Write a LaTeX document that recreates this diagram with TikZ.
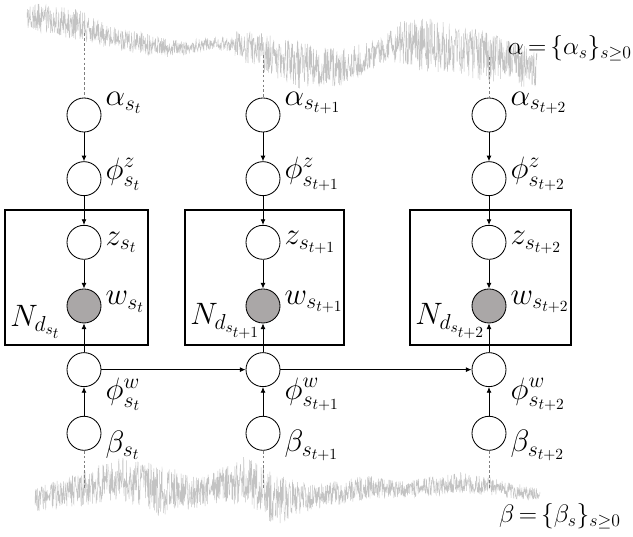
\RequirePackage{fix-cm}
\documentclass[tikz,border=0pt]{standalone}
\usepackage{amsmath}
\usetikzlibrary{arrows.meta, positioning}

\definecolor{obsgray}{RGB}{170,167,167}
\definecolor{noisegray}{RGB}{195,195,195}

\begin{document}
\begin{tikzpicture}[x=0.025cm, y=-0.025cm, >={Latex[length=4pt, width=3.5pt]},
    node distance=0.72cm,
    latent/.style={circle, draw, line width=0.6pt, minimum size=0.85cm, inner sep=0pt},
    obs/.style={latent, fill=obsgray},
    plate/.style={draw, line width=1pt},
    edge/.style={->, line width=0.6pt},
    noise/.style={draw=noisegray, line width=0.3pt},
    guide/.style={draw=gray, line width=0.6pt, dash pattern=on 2pt off 1.5pt},
    lbl/.style={inner sep=0pt, font=\fontsize{22}{26}\selectfont},
    eqn/.style={inner sep=0pt, font=\fontsize{18}{22}\selectfont}]
  \useasboundingbox (0,0) rectangle (633,537);

  % the two random walks behind the chain
  \pgfmathsetseed{7}
  \foreach \xa/\ya/\aa/\xb/\yb/\ab in {27/15/15/50/20/17, 50/20/17/80/25/18,
      80/25/18/110/37/13, 110/37/13/140/43/13, 140/43/13/165/48/11,
      165/48/11/185/48/8, 185/48/8/215/43/7, 215/43/7/235/45/10,
      235/45/16/265/53/23, 265/53/23/300/65/28, 300/65/28/340/68/22,
      340/68/22/380/52/15, 380/52/15/400/42/25, 400/42/25/425/45/32,
      425/45/32/460/50/30, 460/50/30/490/57/30, 490/57/30/537/70/22,
      35/500/14/80/490/20, 80/490/20/120/478/25, 120/478/25/160/490/31,
      160/490/31/200/493/17, 200/493/17/245/480/28, 245/480/28/275/500/31,
      275/500/31/310/498/15, 310/498/15/370/487/14, 370/487/14/400/490/10,
      400/490/10/460/483/12, 460/483/12/500/488/10, 500/488/10/540/496/8}{
    \pgfmathtruncatemacro{\ns}{3*(\xb-\xa)}
    \draw[noise] plot[domain=\xa:\xb, samples=\ns]
      (\x, {\ya+(\yb-\ya)*(\x-\xa)/(\xb-\xa)
            +0.85*(\aa+(\ab-\aa)*(\x-\xa)/(\xb-\xa))*rand});
  }

  \foreach \c/\xc/\sub/\xl/\xr/\yt in {1/84/{s_t}/5/148/33,
      2/263/{s_{t+1}}/185/344/55, 3/489/{s_{t+2}}/410/571/57}{
    \draw[plate] (\xl,210) rectangle (\xr,345);
    \node[lbl, anchor=south west] (n\c) at (\xl+5,339) {$N_{d_{\sub}}$};

    \node[latent, label={[lbl, anchor=west, xshift=0.1cm, yshift=0.3cm]east:$\alpha_{\sub}$}]
      (a\c) at (\xc,115) {};
    \node[latent, below=of a\c,
          label={[lbl, anchor=west, xshift=0.1cm, yshift=0.12cm]east:$\phi^{z}_{\sub}$}] (pz\c) {};
    \node[latent, below=of pz\c,
          label={[lbl, anchor=west, xshift=0.1cm]east:$z_{\sub}$}] (z\c) {};
    \node[obs, below=of z\c,
          label={[lbl, anchor=west, xshift=0.1cm, yshift=0.1cm]east:$w_{\sub}$}] (w\c) {};
    \node[latent, below=of w\c,
          label={[lbl, anchor=west, xshift=0.1cm, yshift=-0.62cm]east:$\phi^{w}_{\sub}$}] (pw\c) {};
    \node[latent, below=of pw\c,
          label={[lbl, anchor=west, xshift=0.1cm, yshift=-0.3cm]east:$\beta_{\sub}$}] (b\c) {};

    \coordinate (top\c) at (\xc,\yt);
    \coordinate (bot\c) at (\xc,490);
    \draw[guide] (top\c) -- (a\c);
    \draw[guide] (b\c) -- (bot\c);

    \draw[edge] (a\c) -- (pz\c);
    \draw[edge] (pz\c) -- (z\c);
    \draw[edge] (z\c) -- (w\c);
    \draw[edge] (pw\c) -- (w\c);
    \draw[edge] (b\c) -- (pw\c);
  }

  \draw[edge] (pw1) -- (pw2);
  \draw[edge] (pw2) -- (pw3);

  \node[eqn, anchor=east] (alphaset) at (632,48)
    {$\alpha\mskip3mu{=}\mskip3mu\{\alpha_s\}_{s\geq0}$};
  \node[eqn, anchor=east] (betaset) at (621,516)
    {$\beta\mskip3mu{=}\mskip3mu\{\beta_s\}_{s\geq0}$};
\end{tikzpicture}
\end{document}
